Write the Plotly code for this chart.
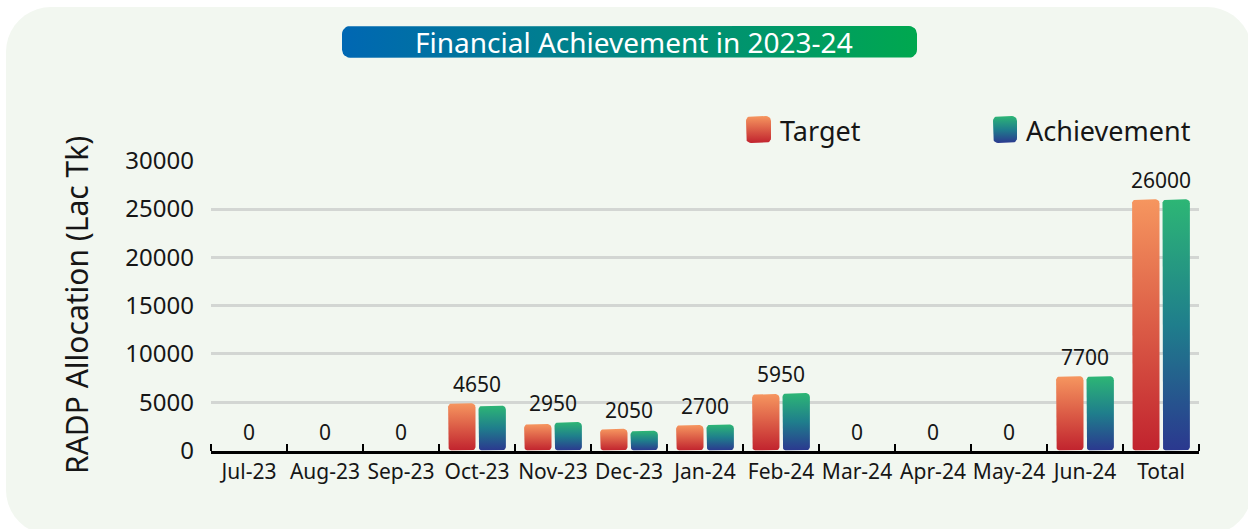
import math
import plotly.graph_objects as go

# ---------------- data ----------------
categories = ["Jul-23", "Aug-23", "Sep-23", "Oct-23", "Nov-23", "Dec-23", "Jan-24",
              "Feb-24", "Mar-24", "Apr-24", "May-24", "Jun-24", "Total"]
target = [0, 0, 0, 4900, 2750, 2250, 2650, 5850, 0, 0, 0, 7700, 26000]
achievement = [0, 0, 0, 4650, 2950, 2050, 2700, 5950, 0, 0, 0, 7700, 26000]
y_ticks = [0, 5000, 10000, 15000, 20000, 25000, 30000]
series_names = ["Target", "Achievement"]
title_text = "Financial Achievement in 2023-24"
y_title = "RADP Allocation (Lac Tk)"

# ---------------- style / geometry ----------------
W, H = 1248, 529
FONT = "Noto Sans"
TXT = "#161616"
PX_LEFT, PX_RIGHT = 211, 1199
PX_ZERO, PX_TOP = 450.6, 160.7
Y_MAX = 30000
n = len(categories)
x_dom = [PX_LEFT / W, PX_RIGHT / W]
y_dom = [1 - PX_ZERO / H, 1 - PX_TOP / H]
px_per_x = (PX_RIGHT - PX_LEFT) / n
px_per_y = (PX_ZERO - PX_TOP) / Y_MAX

target_cs = [[0, "#c1232e"], [1, "#f6965f"]]
ach_cs = [[0, "#2b388f"], [0.5, "#1f7e8c"], [1, "#2db675"]]
title_cs = [[0, "#0067b3"], [1, "#00a84f"]]

BAR_W = 0.36
HALF_GAP = 0.02
R_PX = 4


def rounded_rect(x0, x1, y0, y1, rx, ry, steps=6):
    rx = min(rx, (x1 - x0) / 2)
    ry = min(ry, (y1 - y0) / 2)
    corners = [(x1 - rx, y1 - ry, 0, 90), (x0 + rx, y1 - ry, 90, 180),
               (x0 + rx, y0 + ry, 180, 270), (x1 - rx, y0 + ry, 270, 360)]
    xs, ys = [], []
    for cx, cy, a0, a1 in corners:
        for k in range(steps + 1):
            a = math.radians(a0 + (a1 - a0) * k / steps)
            xs.append(cx + rx * math.cos(a))
            ys.append(cy + ry * math.sin(a))
    xs.append(xs[0])
    ys.append(ys[0])
    return xs, ys


fig = go.Figure()

# bars (gradient filled, rounded)
for i, cat in enumerate(categories):
    for name, val, x0, cs in [(series_names[0], target[i], i - HALF_GAP - BAR_W, target_cs),
                              (series_names[1], achievement[i], i + HALF_GAP, ach_cs)]:
        if val <= 0:
            continue
        xs, ys = rounded_rect(x0, x0 + BAR_W, 0, val, R_PX / px_per_x, R_PX / px_per_y)
        fig.add_trace(go.Scatter(
            x=xs, y=ys, fill="toself", mode="lines",
            line=dict(width=0, color="rgba(0,0,0,0)"),
            fillgradient=dict(type="vertical", colorscale=cs),
            name=f"{name} {cat}", hoveron="fills", text=f"{name} {cat}: {val}",
            hoverinfo="text", showlegend=False, xaxis="x", yaxis="y"))

# value labels
for i in range(n):
    fig.add_annotation(x=i, y=max(target[i], achievement[i]), xref="x", yref="y",
                       text=f"{achievement[i]}", showarrow=False, yanchor="bottom", yshift=3,
                       font=dict(family=FONT, size=21, color=TXT))

# decorations on pixel overlay axes: title pill and legend swatches
xs, ys = rounded_rect(342, 917, H - 57.7, H - 26, 8, 8)
fig.add_trace(go.Scatter(x=xs, y=ys, fill="toself", mode="lines",
                         line=dict(width=0, color="rgba(0,0,0,0)"),
                         fillgradient=dict(type="horizontal", colorscale=title_cs),
                         hoverinfo="skip", showlegend=False, xaxis="x2", yaxis="y2"))
for (sx0, sx1), cs in [((746, 771), target_cs), ((993, 1017), ach_cs)]:
    xs, ys = rounded_rect(sx0, sx1, H - 143, H - 116, 5, 5)
    fig.add_trace(go.Scatter(x=xs, y=ys, fill="toself", mode="lines",
                             line=dict(width=0, color="rgba(0,0,0,0)"),
                             fillgradient=dict(type="vertical", colorscale=cs),
                             hoverinfo="skip", showlegend=False, xaxis="x2", yaxis="y2"))

fig.add_annotation(x=634 / W, y=1 - 42.5 / H, xref="paper", yref="paper", text=title_text,
                   showarrow=False, xanchor="center", yanchor="middle",
                   font=dict(family=FONT, size=28, color="white"))
fig.add_annotation(x=778 / W, y=1 - 130 / H, xref="paper", yref="paper", text=series_names[0],
                   showarrow=False, xanchor="left", yanchor="middle",
                   font=dict(family=FONT, size=27, color=TXT))
fig.add_annotation(x=1024 / W, y=1 - 130 / H, xref="paper", yref="paper", text=series_names[1],
                   showarrow=False, xanchor="left", yanchor="middle",
                   font=dict(family=FONT, size=27, color=TXT))
fig.add_annotation(x=76 / W, y=1 - 305 / H, xref="paper", yref="paper", text=y_title,
                   showarrow=False, textangle=-90, xanchor="center", yanchor="middle",
                   font=dict(family=FONT, size=30, color=TXT))

# background card
bx, by = rounded_rect(6, 1252, 7, 535, 45, 45, steps=10)
path = "M " + " L ".join(f"{x / W:.5f},{1 - y / H:.5f}" for x, y in zip(bx, by)) + " Z"
fig.add_shape(type="path", path=path, xref="paper", yref="paper", layer="below",
              fillcolor="#f2f7f0", line=dict(width=0))

fig.update_layout(
    template="none",
    width=W, height=H, autosize=False,
    margin=dict(l=0, r=0, t=0, b=0, pad=0, autoexpand=False),
    paper_bgcolor="white", plot_bgcolor="rgba(0,0,0,0)",
    showlegend=False,
    xaxis=dict(domain=x_dom, range=[-0.5, n - 0.5], anchor="y", automargin=False,
               tickmode="array", tickvals=list(range(n)), ticktext=categories,
               ticks="", showgrid=False, zeroline=False,
               showline=True, linecolor="black", linewidth=3,
               tickfont=dict(family=FONT, size=21, color=TXT),
               minor=dict(tickmode="array", tickvals=[i - 0.5 for i in range(n + 1)],
                          ticks="inside", ticklen=7, tickwidth=2, tickcolor="black",
                          showgrid=False),
               fixedrange=True),
    yaxis=dict(domain=y_dom, range=[0, Y_MAX], anchor="x", automargin=False,
               tickmode="array", tickvals=y_ticks, tickformat="d",
               showgrid=True, gridcolor="#d3d6d3", gridwidth=2.5,
               zeroline=False, showline=False, ticks="", ticklabelstandoff=16,
               tickfont=dict(family=FONT, size=24, color=TXT), fixedrange=True),
    xaxis2=dict(domain=[0, 1], range=[0, W], anchor="y2", visible=False,
                automargin=False, fixedrange=True),
    yaxis2=dict(domain=[0, 1], range=[0, H], anchor="x2", visible=False,
                automargin=False, fixedrange=True),
)

fig.write_html("out.html", config={"displayModeBar": False},
               post_script="document.body.style.margin='0px';")
